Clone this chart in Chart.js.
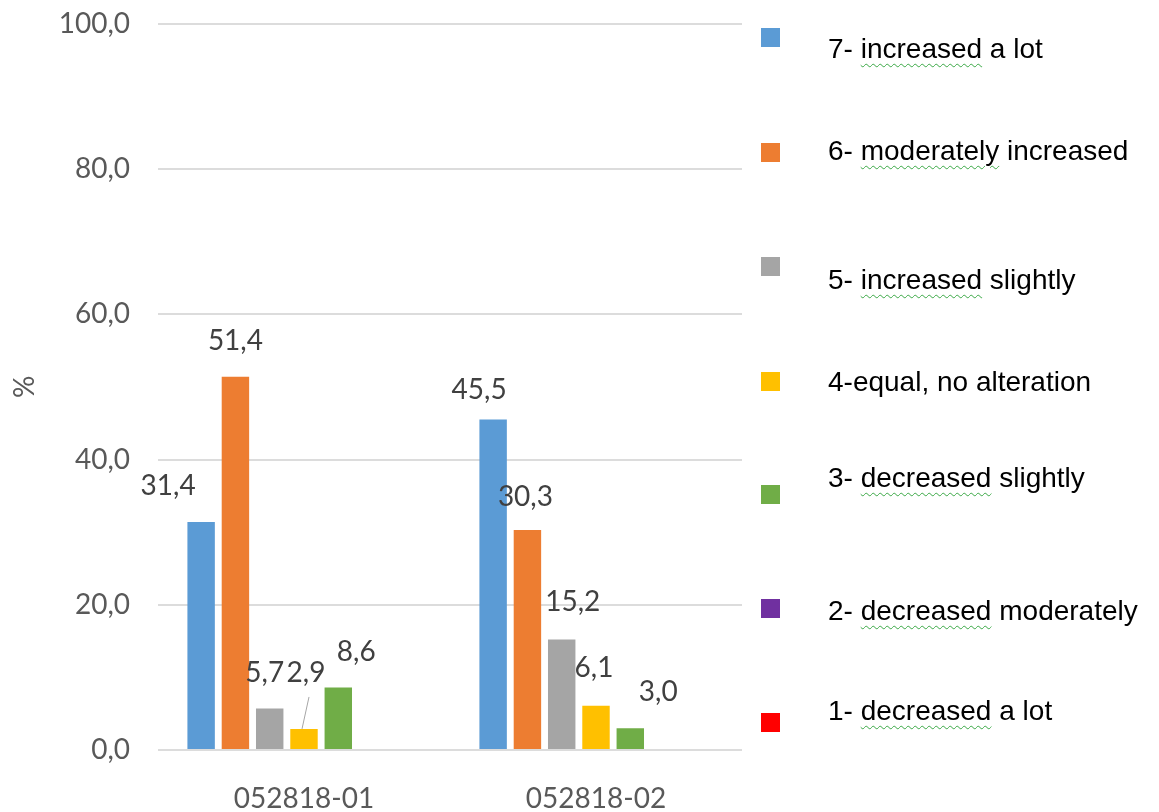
<!DOCTYPE html>
<html>
<head>
<meta charset="utf-8">
<script src="https://cdn.jsdelivr.net/npm/chart.js@4.4.1/dist/chart.umd.min.js"></script>
<style>
  html, body { margin: 0; padding: 0; background: #fff; overflow: hidden; }
  #wrap { position: relative; width: 1159px; height: 812px; }
  #chart { position: absolute; left: 0; top: 0; }
  #legend { position: absolute; left: 0; top: 0; width: 1159px; height: 812px;
            font-family: "Liberation Sans", Arial, sans-serif; font-size: 28px; color: #000; }
  .sw { position: absolute; left: 761px; width: 19px; height: 19px; }
  .lt { position: absolute; left: 828px; white-space: nowrap; line-height: 1; }
  .sp { text-decoration: underline wavy #3aa845; text-decoration-thickness: 1px; text-underline-offset: 5px; }
</style>
</head>
<body>
<div id="wrap">
  <canvas id="chart" width="1159" height="812"></canvas>
  <div id="legend"></div>
</div>
<script>
// categories and series (percent)
var categories = ['052818-01', '052818-02'];
var increasedALot = [31.4, 45.5];
var moderatelyIncreased = [51.4, 30.3];
var increasedSlightly = [5.7, 15.2];
var equalNoAlteration = [2.9, 6.1];
var decreasedSlightly = [8.6, 3.0];
var decreasedModerately = [0, 0];
var decreasedALot = [0, 0];

var seriesNames = ['7- increased a lot', '6- moderately increased', '5- increased slightly',
  '4-equal, no alteration', '3- decreased slightly', '2- decreased moderately', '1- decreased a lot'];
var seriesValues = [increasedALot, moderatelyIncreased, increasedSlightly, equalNoAlteration,
  decreasedSlightly, decreasedModerately, decreasedALot];
var colors = ['#5b9bd5', '#ed7d31', '#a5a5a5', '#ffc000', '#70ad47', '#7030a0', '#ff0000'];
// words with the spell-check squiggle in the legend
var squiggleWords = ['increased', 'moderately', 'increased', null, 'decreased', 'decreased', 'decreased'];

// manual nudges of the value labels [dx, dy], like the moved Excel labels
var labelNudges = [
  [[-33, 0], [-14, 6]],
  [[0, 0], [-2, 3]],
  [[-5, 0], [11, -2]],
  [[2, -20], [-2, -2]],
  [[18, 0], [28, 0]],
  [[0, 0], [0, 0]],
  [[0, 0], [0, 0]]
];
// legend layout
var legendBoxTop = [28, 143, 257, 372, 485, 599, 713];
var legendTextMid = [49, 151, 280, 382, 478, 611, 711];

function fmt(v) { return v.toFixed(1).replace('.', ','); }

var valueLabels = {
  id: 'valueLabels',
  afterDatasetsDraw: function(chart) {
    var ctx = chart.ctx;
    ctx.save();
    ctx.font = '28px Lato';
    ctx.fillStyle = '#404040';
    ctx.textAlign = 'center';
    ctx.textBaseline = 'middle';
    chart.data.datasets.forEach(function(ds, i) {
      var meta = chart.getDatasetMeta(i);
      meta.data.forEach(function(bar, j) {
        var v = ds.data[j];
        if (!v) return;
        var n = labelNudges[i][j];
        var x = bar.x + n[0];
        var y = bar.y - 36 + n[1];
        if (n[1] < -10) {
          ctx.strokeStyle = '#a6a6a6';
          ctx.lineWidth = 1;
          ctx.beginPath();
          ctx.moveTo(x + 3, y + 24);
          ctx.lineTo(bar.x - 2, bar.y);
          ctx.stroke();
        }
        ctx.fillText(fmt(v), x, y);
      });
    });
    ctx.restore();
  }
};

function buildLegend() {
  var el = document.getElementById('legend');
  seriesNames.forEach(function(name, i) {
    var sw = document.createElement('div');
    sw.className = 'sw';
    sw.style.top = legendBoxTop[i] + 'px';
    sw.style.background = colors[i];
    el.appendChild(sw);
    var t = document.createElement('div');
    t.className = 'lt';
    t.style.top = (legendTextMid[i] - 14) + 'px';
    var w = squiggleWords[i];
    var k = w ? name.indexOf(w) : -1;
    if (k >= 0) {
      t.appendChild(document.createTextNode(name.slice(0, k)));
      var s = document.createElement('span');
      s.className = 'sp';
      s.textContent = w;
      t.appendChild(s);
      t.appendChild(document.createTextNode(name.slice(k + w.length)));
    } else {
      t.textContent = name;
    }
    el.appendChild(t);
  });
}

function draw() {
  var ctx = document.getElementById('chart').getContext('2d');
  new Chart(ctx, {
    type: 'bar',
    data: {
      labels: categories,
      datasets: seriesValues.map(function(vals, i) {
        return {
          label: seriesNames[i],
          data: vals,
          backgroundColor: colors[i],
          borderWidth: 0,
          barPercentage: 0.8,
          categoryPercentage: 0.822
        };
      })
    },
    options: {
      responsive: false,
      animation: false,
      layout: { padding: { top: 0, right: 417, bottom: 0, left: 0 } },
      plugins: { legend: { display: false }, tooltip: { enabled: false } },
      scales: {
        x: {
          grid: { display: false },
          border: { display: false },
          ticks: { font: { family: 'Lato', size: 28 }, color: '#595959', padding: 24, maxRotation: 0 },
          afterFit: function(s) { s.height = 62; }
        },
        y: {
          min: 0,
          max: 100,
          grid: { color: '#dcdcdc', lineWidth: 2, drawTicks: true, tickLength: 21, tickColor: 'rgba(0,0,0,0)' },
          border: { display: false },
          ticks: {
            stepSize: 20,
            padding: 7,
            font: { family: 'Lato', size: 28 },
            color: '#595959',
            callback: function(v) { return fmt(v); }
          },
          title: {
            display: true,
            text: '%',
            font: { family: 'Lato', size: 28 },
            color: '#595959',
            padding: { top: 8, bottom: 0 }
          },
          afterFit: function(s) { s.width = 158; }
        }
      }
    },
    plugins: [valueLabels]
  });
}

buildLegend();
document.fonts.load('28px Lato').then(draw, draw);
</script>
</body>
</html>
